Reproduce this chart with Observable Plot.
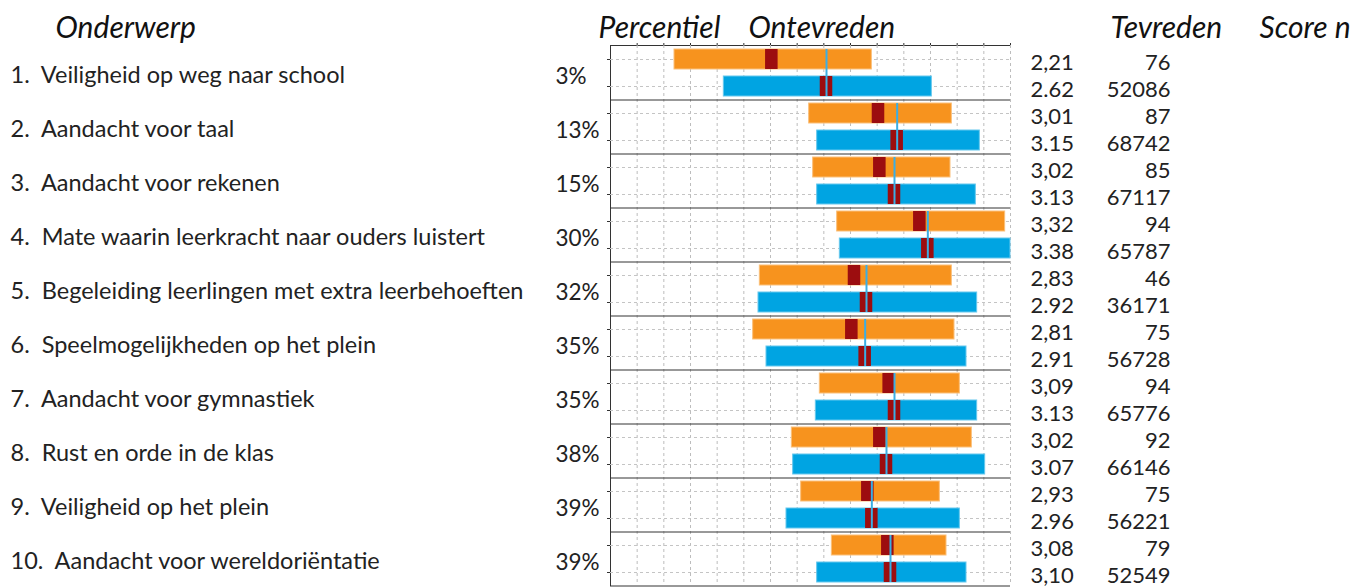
<!DOCTYPE html>
<html><head><meta charset="utf-8">
<script src="https://cdn.jsdelivr.net/npm/d3@7"></script>
<script src="https://cdn.jsdelivr.net/npm/@observablehq/plot@0.6"></script>
<style>body{margin:0;background:#fff;} svg{display:block}</style>
</head><body><div id="chart"></div>
<script>
const topics = [
  "Veiligheid op weg naar school",
  "Aandacht voor taal",
  "Aandacht voor rekenen",
  "Mate waarin leerkracht naar ouders luistert",
  "Begeleiding leerlingen met extra leerbehoeften",
  "Speelmogelijkheden op het plein",
  "Aandacht voor gymnastiek",
  "Rust en orde in de klas",
  "Veiligheid op het plein",
  "Aandacht voor wereldoriëntatie"
];
const percentiles = [3, 13, 15, 30, 32, 35, 35, 38, 39, 39];
const schoolScore = [2.21, 3.01, 3.02, 3.32, 2.83, 2.81, 3.09, 3.02, 2.93, 3.08];
const benchScore  = [2.62, 3.15, 3.13, 3.38, 2.92, 2.91, 3.13, 3.07, 2.96, 3.10];
const schoolLabels = ["2,21", "3,01", "3,02", "3,32", "2,83", "2,81", "3,09", "3,02", "2,93", "3,08"];
const benchLabels  = ["2.62", "3.15", "3.13", "3.38", "2.92", "2.91", "3.13", "3.07", "2.96", "3,10"];
const schoolN = [76, 87, 85, 94, 46, 75, 94, 92, 75, 79];
const benchN  = [52086, 68742, 67117, 65787, 36171, 56728, 65776, 66146, 56221, 52549];
const schoolLow  = [1.48, 2.49, 2.52, 2.70, 2.12, 2.07, 2.57, 2.36, 2.43, 2.66];
const schoolHigh = [2.96, 3.56, 3.55, 3.96, 3.56, 3.58, 3.62, 3.71, 3.47, 3.52];
const benchLow   = [1.85, 2.55, 2.55, 2.72, 2.11, 2.17, 2.54, 2.37, 2.32, 2.55];
const benchHigh  = [3.41, 3.77, 3.74, 4.00, 3.75, 3.67, 3.75, 3.81, 3.62, 3.67];
const xTicks = [1.2, 1.4, 1.6, 1.8, 2.0, 2.2, 2.4, 2.6, 2.8, 3.0, 3.2, 3.4, 3.6, 3.8, 4.0];
const headers = ["Onderwerp", "Percentiel", "Ontevreden", "Tevreden", "Score n"];

const markerHalf = 0.047;
const ORANGE = "#F7931E", BLUE = "#00A4E2", RED = "#9C0D0F", MEAN = "#3AAEE4";
const FONT = "Lato";

const rows = [];
topics.forEach((t, i) => {
  rows.push({key: `${i}s`, kind: "school", low: schoolLow[i], high: schoolHigh[i], score: schoolScore[i],
    label: schoolLabels[i], n: schoolN[i]});
  rows.push({key: `${i}b`, kind: "bench", low: benchLow[i], high: benchHigh[i], score: benchScore[i],
    label: benchLabels[i], n: benchN[i]});
});
const keys = rows.map(d => d.key);
const groups = topics.map((t, i) => ({
  s: `${i}s`, b: `${i}b`, mean: benchScore[i],
  name: `${i + 1}.\u00a0\u00a0${t}`, pct: `${percentiles[i]}%`
}));
const last = groups[groups.length - 1];

const headerOffsets = [-555, -12, 138, 500, 649];
const headerMarks = headers.map((h, i) => Plot.text([h], {
  text: d => d, frameAnchor: "top-left", dx: headerOffsets[i], dy: -17, lineAnchor: "middle",
  textAnchor: "start", fontSize: 30, fontStyle: "italic", fill: "#111"
}));

const chart = Plot.plot({
  width: 1353,
  height: 587,
  marginLeft: 610,
  marginRight: 343,
  marginTop: 45,
  marginBottom: 2,
  style: {fontFamily: FONT, background: "white", color: "#333"},
  x: {domain: [1, 4], axis: "top", ticks: xTicks, tickSize: 3, tickFormat: () => "", label: null, line: true},
  y: {domain: keys, paddingInner: 0.26, paddingOuter: 0.13, tickSize: 3, tickFormat: () => "", label: null, line: true},
  marks: [
    Plot.ruleX(xTicks, {stroke: "#bdbdbd", strokeDasharray: "3,3"}),
    Plot.ruleY(keys, {y: d => d, stroke: "#c4c4c4", strokeDasharray: "3,3"}),
    Plot.ruleY(groups.slice(1), {y: "s", dy: -13.5, stroke: "#333"}),
    Plot.ruleY([last], {y: "b", dy: 13.5, stroke: "#333"}),
    Plot.barX(rows, {y: "key", x1: "low", x2: "high",
      fill: d => d.kind === "school" ? ORANGE : BLUE,
      stroke: d => d.kind === "school" ? "#FBC07A" : "#66C8EE", strokeWidth: 1}),
    Plot.barX(rows, {y: "key", x1: d => d.score - markerHalf, x2: d => d.score + markerHalf, fill: RED}),
    Plot.ruleX(groups, {x: "mean", y1: "s", y2: "b", stroke: MEAN, strokeWidth: 2}),
    Plot.text(groups, {y: "s", dy: 16, text: "name", frameAnchor: "left", dx: -600, textAnchor: "start", fontSize: 23.5, fill: "#222"}),
    Plot.text(groups, {y: "s", dy: 17, text: "pct", frameAnchor: "left", dx: -55, textAnchor: "start", fontSize: 22.5, fill: "#222"}),
    Plot.text(rows, {y: "key", dy: 3, text: "label", frameAnchor: "right", dx: 20, textAnchor: "start", fontSize: 22, fill: "#222"}),
    Plot.text(rows, {y: "key", dy: 3, text: d => String(d.n), frameAnchor: "right", dx: 160, textAnchor: "end", fontSize: 22, fill: "#222"}),
    ...headerMarks
  ]
});
document.getElementById("chart").appendChild(chart);
</script>
</body></html>
